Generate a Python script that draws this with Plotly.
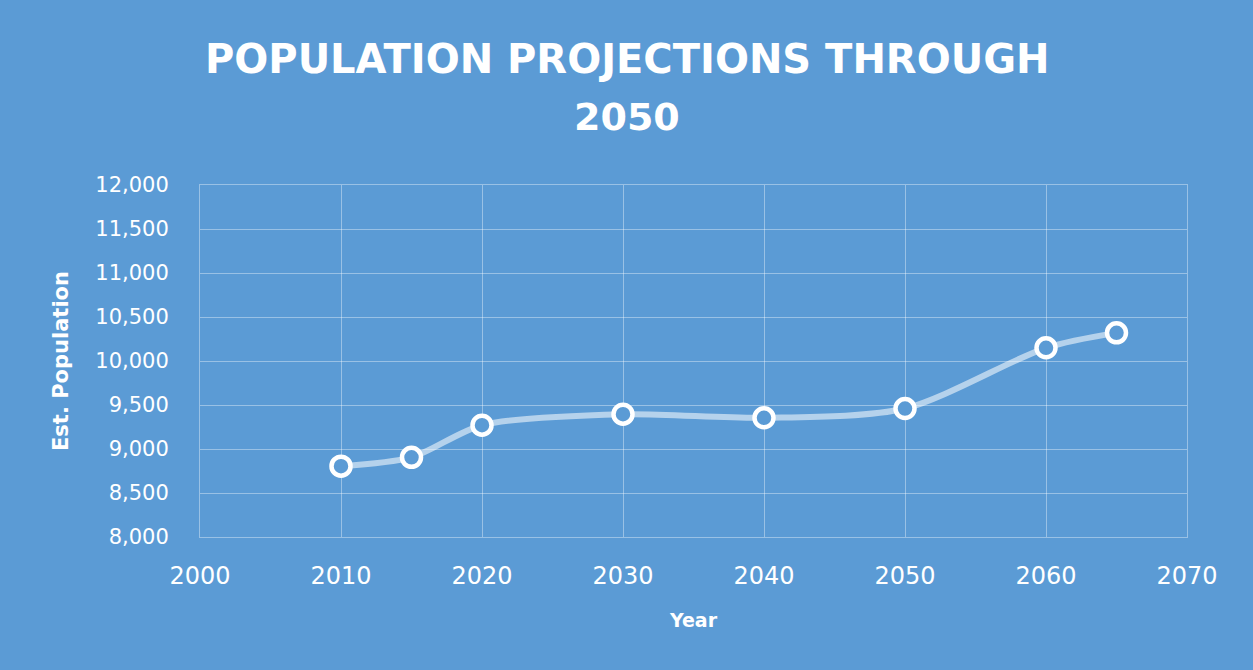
import plotly.graph_objects as go

years = [2010, 2015, 2020, 2030, 2040, 2050, 2060, 2065]
population = [8805, 8905, 9270, 9395, 9355, 9460, 10150, 10320]

title_lines = ["POPULATION PROJECTIONS THROUGH", "2050"]
x_title = "Year"
y_title = "Est. Population"

BG = "#5B9BD5"
GRID = "rgba(255,255,255,0.38)"
FONT = "DejaVu Sans"

W, H = 1253, 670
ML, MR, MT, MB = 200, 66, 185, 133
plot_w, plot_h = W - ML - MR, H - MT - MB


def px_to_paper_x(px):
    return (px - ML) / plot_w


def px_to_paper_y(py):
    return (MT + plot_h - py) / plot_h


fig = go.Figure()
fig.add_trace(go.Scatter(
    x=years, y=population, mode="lines+markers",
    line=dict(shape="spline", smoothing=0.8, color="rgba(255,255,255,0.55)", width=6),
    marker=dict(size=19, color=BG, line=dict(color="white", width=4.5)),
    showlegend=False,
))

fig.update_layout(
    width=W, height=H,
    paper_bgcolor=BG, plot_bgcolor=BG,
    margin=dict(l=ML, r=MR, t=MT, b=MB),
    font=dict(family=FONT, color="white"),
    annotations=[
        dict(text="<b>%s</b>" % title_lines[0], x=px_to_paper_x(627), y=px_to_paper_y(59),
             xref="paper", yref="paper", xanchor="center", yanchor="middle",
             showarrow=False, font=dict(size=40, color="white", family=FONT)),
        dict(text="<b>%s</b>" % title_lines[1], x=px_to_paper_x(627), y=px_to_paper_y(117),
             xref="paper", yref="paper", xanchor="center", yanchor="middle",
             showarrow=False, font=dict(size=38, color="white", family=FONT)),
    ],
)

fig.update_xaxes(
    range=[2000, 2070], dtick=10, tick0=2000,
    showgrid=True, gridcolor=GRID, gridwidth=1,
    showline=True, linecolor=GRID, mirror=True, zeroline=False,
    ticks="", tickfont=dict(size=24, color="white"), ticklabelstandoff=17,
    title=dict(text="<b>%s</b>" % x_title, font=dict(size=19, color="white"), standoff=24),
)
fig.update_yaxes(
    range=[8000, 12000], dtick=500,
    showgrid=True, gridcolor=GRID, gridwidth=1,
    showline=True, linecolor=GRID, mirror=True, zeroline=False,
    ticks="", tickformat=",d", tickfont=dict(size=21, color="white"), ticklabelstandoff=26,
    title=dict(text="<b>%s</b>" % y_title, font=dict(size=21, color="white"), standoff=20),
)

fig.write_html("out.html")
